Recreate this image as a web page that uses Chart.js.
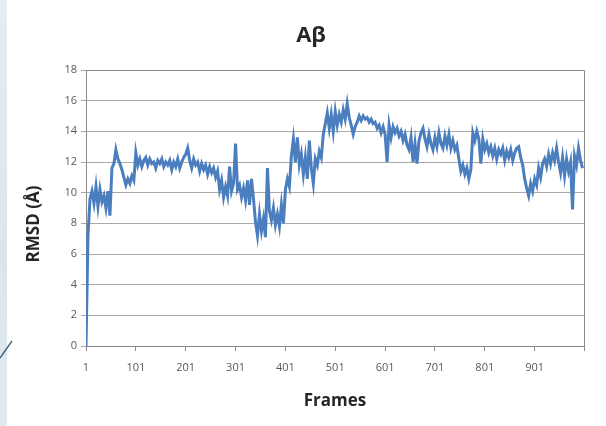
<!DOCTYPE html>
<html>
<head>
<meta charset="utf-8">
<script src="https://cdn.jsdelivr.net/npm/chart.js@4/dist/chart.umd.min.js"></script>
<style>
  html, body { margin: 0; padding: 0; background: #ffffff; }
  #wrap { position: relative; width: 606px; height: 426px; overflow: hidden; background: #ffffff; }
  #strip { position: absolute; left: 0; top: 0; width: 7px; height: 426px;
           background: linear-gradient(180deg, #e6edf2 0%, #dbe5ec 60%, #e3eaef 100%); }
  #slash { position: absolute; left: 0; top: 0; }
  #chart { position: absolute; left: 0; top: 0; }
</style>
</head>
<body>
<div id="wrap">
  <div id="strip"></div>
  <svg id="slash" width="606" height="426"><line x1="0" y1="358" x2="12" y2="341" stroke="#3a6680" stroke-width="1.4"/></svg>
  <canvas id="chart" width="606" height="426"></canvas>
</div>
<script>
// RMSD of the Aβ trajectory, one value every 4 frames (frames 1, 5, 9, ... 997)
const frameStep = 4;
const rmsd = [
  // frames 1-97
  0.0, 7.2, 9.6, 10.1, 9.3, 10.4, 9.1, 10.2, 9.4, 9.8, 9.0, 10.1, 8.5, 11.6, 11.9, 12.8, 12.2, 11.9, 11.5, 11.0, 10.5, 10.9, 10.6, 11.1, 10.8,
  // frames 101-197
  12.6, 11.8, 12.2, 11.7, 12.1, 12.3, 11.8, 12.2, 11.9, 12.0, 11.6, 12.1, 11.9, 12.2, 11.7, 12.0, 11.8, 12.1, 11.5, 12.0, 11.7, 12.2, 11.6, 12.0, 12.3,
  // frames 201-297
  12.5, 12.9, 12.1, 11.6, 12.2, 11.8, 12.0, 11.4, 11.9, 11.5, 11.8, 11.2, 11.7, 11.3, 11.6, 11.0, 11.4, 10.2, 10.8, 9.7, 10.4, 9.8, 11.7, 10.1, 10.6,
  // frames 301-397
  13.2, 10.2, 10.5, 9.7, 10.3, 9.5, 10.8, 9.2, 10.9, 9.6, 8.1, 7.2, 8.6, 7.5, 8.3, 7.1, 11.6, 8.8, 8.2, 9.0, 7.9, 8.6, 7.8, 9.2, 8.0,
  // frames 401-497
  10.2, 10.9, 10.4, 12.4, 13.5, 12.0, 13.6, 11.8, 12.5, 11.2, 12.3, 10.9, 13.4, 11.6, 10.6, 12.2, 11.8, 12.7, 12.3, 13.8, 14.5, 15.2, 14.2, 15.1, 14.0,
  // frames 501-597
  15.3, 14.4, 15.1, 14.6, 15.4, 14.8, 15.8, 14.9, 14.4, 13.8, 14.3, 14.6, 15.0, 14.7, 15.0, 14.8, 14.9, 14.6, 14.8, 14.5, 14.6, 14.2, 14.4, 13.9, 14.3,
  // frames 601-697
  13.8, 12.0, 14.4, 13.6, 14.3, 13.9, 14.2, 13.7, 14.0, 13.4, 13.8, 13.1, 12.8, 13.6, 12.0, 13.2, 11.9, 13.4, 13.9, 14.2, 13.5, 13.0, 13.8, 13.2, 12.8,
  // frames 701-797
  13.6, 13.0, 13.9, 13.2, 12.9, 13.7, 13.1, 13.8, 12.9, 13.4, 12.8, 13.1, 12.2, 11.4, 11.8, 11.2, 11.6, 10.9, 11.5, 13.9, 13.4, 14.0, 13.5, 11.9, 13.5,
  // frames 801-897
  12.8, 13.2, 12.6, 13.0, 12.4, 12.9, 12.2, 12.8, 12.5, 12.9, 12.1, 12.7, 12.3, 12.8, 12.1, 12.6, 12.9, 13.0, 12.3, 11.8, 10.9, 10.3, 9.8, 10.6, 10.1,
  // frames 901-997
  10.9, 10.5, 11.6, 11.0, 11.9, 12.2, 11.7, 12.5, 11.9, 12.6, 12.1, 12.9, 12.0, 11.3, 12.3, 11.1, 12.2, 11.4, 12.0, 8.9, 12.4, 11.8, 12.9, 12.1, 11.6
];
const frames = rmsd.map((_, i) => 1 + i * frameStep);

const xTickLabels = [1, 101, 201, 301, 401, 501, 601, 701, 801, 901];
const xEnd = 1000;
const yTicks = [0, 2, 4, 6, 8, 10, 12, 14, 16, 18];
const yTitle = 'RMSD (Å)';

const FONT = "'Open Sans', 'Liberation Sans', sans-serif";
const gridColor = '#a9a9a9';
const axisColor = '#8a8a8a';
const titleColor = '#262626';

// outline the right edge and top of the plot area, and set the vertical axis title
const frameBorder = {
  id: 'frameBorder',
  afterDraw(chart) {
    const { ctx, chartArea: a } = chart;
    ctx.save();
    ctx.strokeStyle = axisColor;
    ctx.lineWidth = 1;
    ctx.beginPath();
    ctx.moveTo(a.left, Math.round(a.top) + 0.5);
    ctx.lineTo(Math.round(a.right) + 0.5, Math.round(a.top) + 0.5);
    ctx.lineTo(Math.round(a.right) + 0.5, a.bottom);
    ctx.stroke();

    ctx.translate(34, (a.top + a.bottom) / 2 + 16);
    ctx.rotate(-Math.PI / 2);
    ctx.fillStyle = titleColor;
    ctx.font = 'bold 17px ' + FONT;
    ctx.textAlign = 'center';
    ctx.textBaseline = 'middle';
    ctx.fillText(yTitle, 0, 0);
    ctx.restore();
  }
};

new Chart(document.getElementById('chart'), {
  type: 'line',
  data: {
    datasets: [{
      data: frames.map((f, i) => ({ x: f, y: rmsd[i] })),
      borderColor: '#4a7ebf',
      borderWidth: 3,
      pointRadius: 0,
      tension: 0,
      fill: false
    }]
  },
  options: {
    responsive: false,
    animation: false,
    events: [],
    layout: { padding: { left: 38, right: 22, top: 0, bottom: 0 } },
    plugins: {
      legend: { display: false },
      tooltip: { enabled: false },
      title: {
        display: true,
        text: 'Aβ',
        color: titleColor,
        font: { family: FONT, size: 22, weight: 'bold' },
        padding: { top: 23, bottom: 20.6 }
      }
    },
    scales: {
      x: {
        type: 'linear',
        min: xTickLabels[0],
        max: xEnd,
        afterBuildTicks: s => { s.ticks = xTickLabels.concat([xEnd]).map(v => ({ value: v })); },
        afterFit: s => { s.height = 80; },
        ticks: {
          autoSkip: false,
          maxRotation: 0,
          padding: 10,
          color: '#595959',
          font: { family: FONT, size: 11 },
          callback: v => (xTickLabels.includes(v) ? String(v) : '')
        },
        grid: { drawOnChartArea: false, drawTicks: true, tickLength: 5, color: axisColor },
        border: { color: axisColor },
        title: {
          display: true,
          text: 'Frames',
          color: titleColor,
          font: { family: FONT, size: 17, weight: 'bold' },
          padding: { top: 0, bottom: 15 }
        }
      },
      y: {
        min: yTicks[0],
        max: yTicks[yTicks.length - 1],
        afterBuildTicks: s => { s.ticks = yTicks.map(v => ({ value: v })); },
        afterFit: s => { s.width = 48; },
        ticks: {
          padding: 4,
          color: '#595959',
          font: { family: FONT, size: 11 }
        },
        grid: { color: gridColor, drawTicks: true, tickLength: 5 },
        border: { color: axisColor }
      }
    }
  },
  plugins: [frameBorder]
});
</script>
</body>
</html>
